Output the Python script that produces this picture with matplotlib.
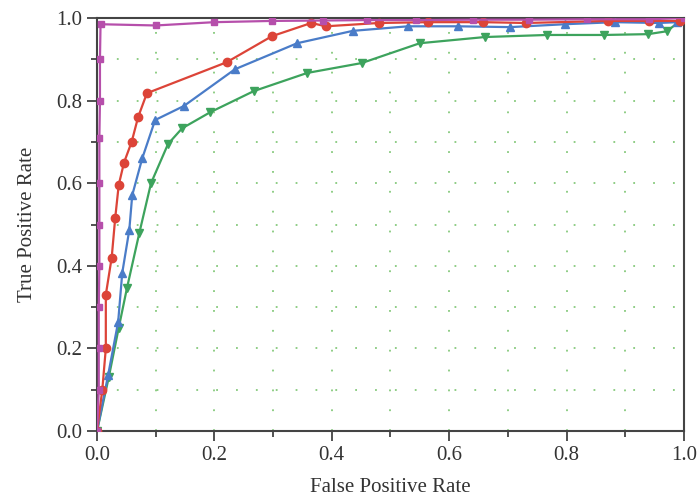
import numpy as np
import matplotlib
matplotlib.use("Agg")
import matplotlib.pyplot as plt
from matplotlib.ticker import MultipleLocator

plt.rcParams['font.family'] = ['Liberation Serif', 'DejaVu Serif']

# ROC curves
fpr_magenta = [0.0, 0.003, 0.003, 0.003, 0.004, 0.004, 0.004, 0.004, 0.005, 0.005, 0.006,
               0.1, 0.2, 0.298, 0.385, 0.46, 0.543, 0.64, 0.736, 0.835, 0.94, 1.0]
tpr_magenta = [0.0, 0.1, 0.2, 0.3, 0.4, 0.5, 0.6, 0.71, 0.8, 0.9, 0.985,
               0.982, 0.99, 0.993, 0.994, 0.995, 0.995, 0.996, 0.996, 0.997, 0.997, 1.0]

fpr_red = [0.0, 0.009, 0.015, 0.015, 0.025, 0.031, 0.037, 0.046, 0.059, 0.07, 0.085,
           0.221, 0.298, 0.365, 0.39, 0.48, 0.564, 0.658, 0.731, 0.87, 0.94, 0.993, 1.0]
tpr_red = [0.0, 0.10, 0.20, 0.33, 0.42, 0.516, 0.596, 0.65, 0.70, 0.76, 0.818,
           0.893, 0.956, 0.988, 0.98, 0.988, 0.99, 0.99, 0.988, 0.993, 0.993, 0.993, 1.0]

fpr_blue = [0.0, 0.019, 0.036, 0.043, 0.055, 0.06, 0.077, 0.099, 0.148, 0.235, 0.341,
            0.436, 0.53, 0.615, 0.704, 0.797, 0.882, 0.957, 0.988, 1.0]
tpr_blue = [0.0, 0.136, 0.264, 0.383, 0.487, 0.571, 0.66, 0.753, 0.787, 0.876, 0.939,
            0.969, 0.98, 0.98, 0.978, 0.985, 0.99, 0.988, 0.99, 1.0]

fpr_green = [0.0, 0.02, 0.037, 0.051, 0.072, 0.092, 0.121, 0.145, 0.193, 0.267, 0.358,
             0.451, 0.55, 0.661, 0.767, 0.864, 0.939, 0.971, 1.0]
tpr_green = [0.0, 0.13, 0.25, 0.346, 0.479, 0.60, 0.695, 0.733, 0.772, 0.823, 0.867,
             0.891, 0.939, 0.954, 0.959, 0.959, 0.961, 0.968, 1.0]

fig = plt.figure(figsize=(7, 5.01), dpi=100)
ax = fig.add_axes([0.1386, 0.1397, 0.8384, 0.8243])

ax.plot(fpr_green, tpr_green, color='#3da35d', lw=1.6, marker='v', ms=6, zorder=3)
ax.plot(fpr_blue, tpr_blue, color='#4a7cc8', lw=1.6, marker='^', ms=6, zorder=4)
ax.plot(fpr_red, tpr_red, color='#dc4438', lw=1.6, marker='o', ms=6, zorder=5)
ax.plot(fpr_magenta, tpr_magenta, color='#b64fab', lw=1.6, marker='s', ms=5, zorder=6)

ax.set_xlim(0, 1)
ax.set_ylim(0, 1)
ax.xaxis.set_major_locator(MultipleLocator(0.2))
ax.yaxis.set_major_locator(MultipleLocator(0.2))
ax.xaxis.set_minor_locator(MultipleLocator(0.1))
ax.yaxis.set_minor_locator(MultipleLocator(0.1))
ax.xaxis.set_major_formatter(plt.FormatStrFormatter('%.1f'))
ax.yaxis.set_major_formatter(plt.FormatStrFormatter('%.1f'))

ax.grid(which='both', color='#86c97c', linestyle=(0, (1, 10)), linewidth=1.3, zorder=0)
ax.tick_params(which='both', direction='out', top=False, right=False,
               color='#333333', labelsize=15, labelcolor='#333333')
ax.tick_params(which='major', length=7, width=1.2)
ax.tick_params(which='minor', length=4, width=1.2)
for s in ax.spines.values():
    s.set_color('#444444')
    s.set_linewidth(1.5)

ax.set_xlabel('False Positive Rate', fontsize=15, color='#333333', labelpad=10)
ax.set_ylabel('True Positive Rate', fontsize=15, color='#333333', labelpad=14)

fig.savefig('out.png', dpi=100)
